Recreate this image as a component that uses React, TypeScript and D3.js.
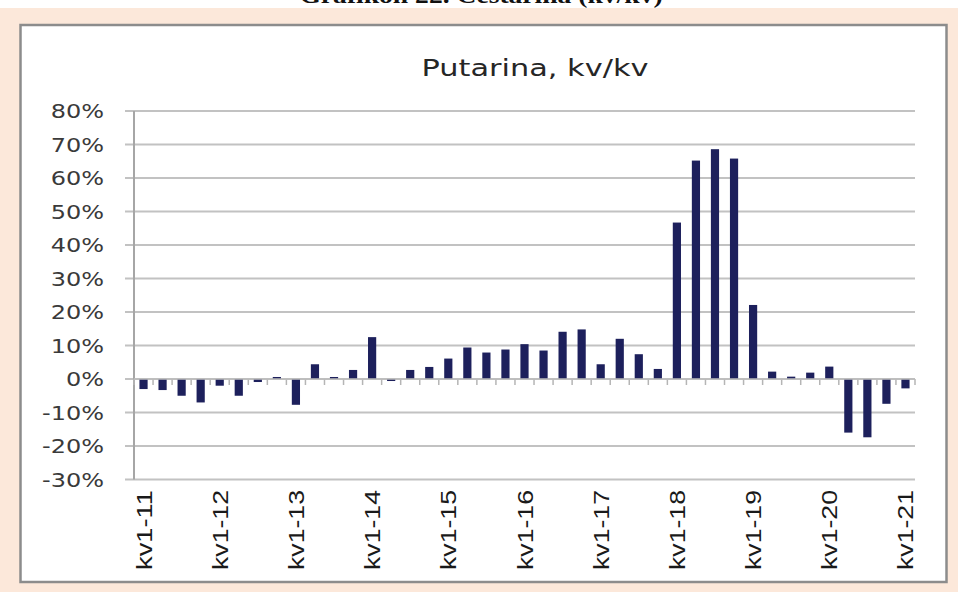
import React, { useEffect, useRef } from 'react';
import * as d3 from 'd3';

// kv1-11 ... kv1-21, one bar per quarter
const quarters: string[] = [];
for (let y = 11; y <= 21; y++) {
  for (let q = 1; q <= 4; q++) {
    if (y === 21 && q > 1) break;
    quarters.push(`kv${q}-${y}`);
  }
}

const values = [
  -3.0, -3.3, -5.0, -7.0, -2.0, -5.0, -0.9, 0.6, -7.7, 4.4, 0.6, 2.7, 12.5, -0.6,
  2.7, 3.6, 6.1, 9.4, 7.9, 8.8, 10.4, 8.5, 14.1, 14.8, 4.4, 12.0, 7.4, 3.0,
  46.7, 65.2, 68.6, 65.8, 22.1, 2.2, 0.7, 1.9, 3.7, -16.0, -17.4, -7.4, -2.8,
];

const yTicks = [80, 70, 60, 50, 40, 30, 20, 10, 0, -10, -20, -30];

const App = () => {
  const ref = useRef<SVGSVGElement>(null);

  useEffect(() => {
    if (!ref.current) return;
    const W = 958;
    const H = 592;
    const plot = { left: 134, right: 915, top: 111, bottom: 479.5 };
    // the source picture is stretched sideways, so horizontal text is too
    const stretch = 1.32;

    const svg = d3.select(ref.current);
    svg.selectAll('*').remove();

    // peach page band and cropped caption
    svg.append('rect').attr('width', W).attr('height', H).attr('fill', '#fff');
    svg.append('rect').attr('x', 0).attr('y', 8).attr('width', W).attr('height', H - 8).attr('fill', '#fce8da');
    svg.append('text')
      .attr('transform', `translate(481,3) scale(1.2,1)`)
      .attr('text-anchor', 'middle')
      .style('font-family', '"Liberation Serif", serif')
      .style('font-weight', 'bold')
      .style('font-size', '23px')
      .attr('fill', '#111')
      .text('Grafikon 22. Cestarina (kv/kv)');

    // chart area box
    svg.append('rect')
      .attr('x', 20.5).attr('y', 25).attr('width', 926).attr('height', 557)
      .attr('fill', '#fff')
      .attr('stroke', '#8c8c8c')
      .attr('stroke-width', 2.5);

    svg.append('text')
      .attr('transform', `translate(535,76) scale(${stretch},1)`)
      .attr('text-anchor', 'middle')
      .style('font-family', '"DejaVu Sans", Verdana, sans-serif')
      .style('font-size', '23px')
      .attr('fill', '#262626')
      .text('Putarina, kv/kv');

    const x = d3.scaleBand<string>()
      .domain(quarters)
      .range([plot.left, plot.right])
      .paddingInner(0.57)
      .paddingOuter(0.285);

    const y = d3.scaleLinear().domain([-30, 80]).range([plot.bottom, plot.top]);

    // gridlines
    svg.append('g')
      .selectAll('line')
      .data(yTicks)
      .join('line')
      .attr('x1', plot.left - 9).attr('x2', plot.right)
      .attr('y1', d => y(d)).attr('y2', d => y(d))
      .attr('stroke', '#c2c2c2')
      .attr('stroke-width', 2);

    // y labels
    svg.append('g')
      .selectAll('text')
      .data(yTicks)
      .join('text')
      .attr('transform', d => `translate(104,${y(d) + 7}) scale(1.2,1)`)
      .attr('text-anchor', 'end')
      .style('font-family', '"DejaVu Sans", Verdana, sans-serif')
      .style('font-size', '20px')
      .attr('fill', '#3a3a3a')
      .text(d => `${d}%`);

    // y axis line
    svg.append('line')
      .attr('x1', plot.left).attr('x2', plot.left)
      .attr('y1', plot.top).attr('y2', plot.bottom)
      .attr('stroke', '#a6a6a6').attr('stroke-width', 2);

    // bars
    svg.append('g')
      .selectAll('rect')
      .data(values)
      .join('rect')
      .attr('x', (d, i) => x(quarters[i])!)
      .attr('width', x.bandwidth())
      .attr('y', d => y(Math.max(0, d)))
      .attr('height', d => Math.abs(y(d) - y(0)))
      .attr('fill', '#1d205c');

    // category ticks on the zero line
    const step = x.step();
    const bounds = d3.range(quarters.length + 1).map(i => plot.left + i * step);
    svg.append('g')
      .selectAll('line')
      .data(bounds)
      .join('line')
      .attr('x1', d => d).attr('x2', d => d)
      .attr('y1', y(0)).attr('y2', y(0) + 6)
      .attr('stroke', '#b5b5b5').attr('stroke-width', 1.5);

    svg.append('line')
      .attr('x1', plot.left).attr('x2', plot.right)
      .attr('y1', y(0)).attr('y2', y(0))
      .attr('stroke', '#bdbdbd').attr('stroke-width', 1.5);

    // x labels every 4th quarter
    const labelled = quarters.filter((q, i) => i % 4 === 0);
    svg.append('g')
      .selectAll('text')
      .data(labelled)
      .join('text')
      .attr('transform', d => `translate(${x(d)! + x.bandwidth() / 2 + 8},490) rotate(-90)`)
      .attr('text-anchor', 'end')
      .attr('textLength', 80)
      .attr('lengthAdjust', 'spacingAndGlyphs')
      .style('font-family', '"Liberation Sans", Arial, sans-serif')
      .style('font-size', '22px')
      .attr('fill', '#1a1a1a')
      .text(d => d);
  }, []);

  return (
    <svg
      ref={ref}
      width={958}
      height={592}
      style={{ position: 'absolute', left: 0, top: 0, display: 'block' }}
    />
  );
};

export default App;
